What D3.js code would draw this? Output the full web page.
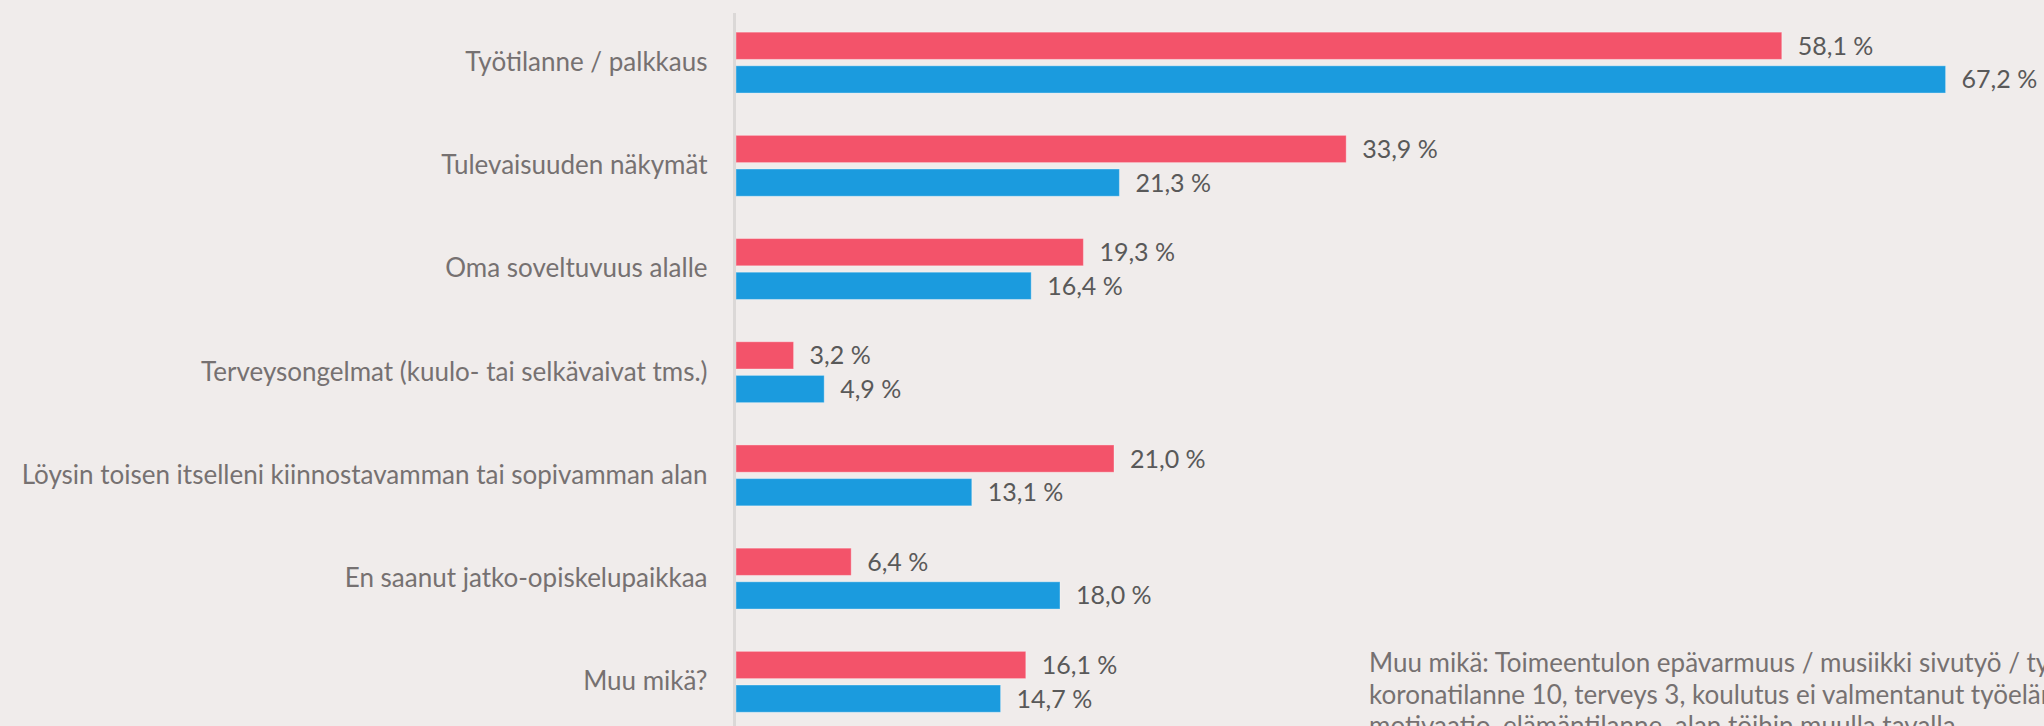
<!DOCTYPE html>
<html>
<head>
<meta charset="utf-8">
<script src="https://cdn.jsdelivr.net/npm/d3@7"></script>
<style>
	html, body { margin: 0; padding: 0; background: #f0eceb; }
	svg { display: block; }
	.cat-axis .domain { stroke: #dbd8d7; stroke-width: 3; }
	.cat-axis text { fill: #767171; font-family: Lato, sans-serif; font-size: 26px; }
	.value-label { fill: #595959; font-family: Lato, sans-serif; font-size: 25px; }
	.note { fill: #767171; font-family: Lato, sans-serif; font-size: 26px; }
</style>
</head>
<body>
<div id="chart"></div>
<script>
// categories top to bottom
const categories = [
	"Työtilanne / palkkaus",
	"Tulevaisuuden näkymät",
	"Oma soveltuvuus alalle",
	"Terveysongelmat (kuulo- tai selkävaivat tms.)",
	"Löysin toisen itselleni kiinnostavamman tai sopivamman alan",
	"En saanut jatko-opiskelupaikkaa",
	"Muu mikä?"
];
// percentages, red series and blue series
const redValues  = [58.1, 33.9, 19.3, 3.2, 21.0, 6.4, 16.1];
const blueValues = [67.2, 21.3, 16.4, 4.9, 13.1, 18.0, 14.7];
const seriesKeys = ["red", "blue"];
const seriesColors = { red: "#f3536a", blue: "#1b9bde" };

// note in the lower right corner, runs off the picture like the original
const noteLines = [
	"Muu mikä: Toimeentulon epävarmuus / musiikki sivutyö / työn epävarmuus",
	"koronatilanne 10, terveys 3, koulutus ei valmentanut työelämään",
	"motivaatio, elämäntilanne, alan töihin muulla tavalla"
];

const width = 2044, height = 726;
const axisX = 734.5;

const fi = d3.formatLocale({ decimal: ",", thousands: " ", grouping: [3], currency: ["", " €"] });
const pct = (v) => fi.format(".1f")(v) + " %";

const data = categories.map((c, i) => ({ cat: c, red: redValues[i], blue: blueValues[i] }));

const svg = d3.select("#chart").append("svg")
	.attr("width", width)
	.attr("height", height);

const yScale = d3.scaleBand()
	.domain(categories)
	.range([11, 733.4])
	.paddingInner(0.41)
	.paddingOuter(0.205);

const ySub = d3.scaleBand()
	.domain(seriesKeys)
	.range([0, yScale.bandwidth()])
	.paddingInner(0.19);

const xScale = d3.scaleLinear()
	.domain([0, 70])
	.range([736, 1996]);

// bars
const groups = svg.append("g")
	.selectAll(".group")
	.data(data)
	.enter()
	.append("g")
	.attr("class", "group")
	.attr("transform", (d) => "translate(0," + yScale(d.cat) + ")");

groups.selectAll("rect")
	.data((d) => seriesKeys.map((k) => ({ key: k, value: d[k] })))
	.enter()
	.append("rect")
	.attr("x", xScale(0))
	.attr("y", (d) => ySub(d.key))
	.attr("width", (d) => xScale(d.value) - xScale(0))
	.attr("height", ySub.bandwidth())
	.attr("fill", (d) => seriesColors[d.key])
	.attr("stroke", "rgba(255,255,255,0.35)")
	.attr("stroke-width", 1);

groups.selectAll(".value-label")
	.data((d) => seriesKeys.map((k) => ({ key: k, value: d[k] })))
	.enter()
	.append("text")
	.attr("class", "value-label")
	.attr("x", (d) => xScale(d.value) + 16)
	.attr("y", (d) => ySub(d.key) + ySub.bandwidth() / 2)
	.attr("dy", "0.36em")
	.text((d) => pct(d.value));

// category axis
svg.append("g")
	.attr("class", "cat-axis")
	.attr("transform", "translate(" + axisX + ",0)")
	.call(d3.axisLeft(yScale).tickSize(0).tickPadding(27).tickSizeOuter(0));

svg.select(".cat-axis .domain").attr("d", "M0," + 13 + "V" + height);

// note text bottom right
svg.append("g")
	.selectAll(".note")
	.data(noteLines)
	.enter()
	.append("text")
	.attr("class", "note")
	.attr("x", 1369)
	.attr("y", (d, i) => 672 + i * 31.5)
	.text((d) => d);
</script>
</body>
</html>
